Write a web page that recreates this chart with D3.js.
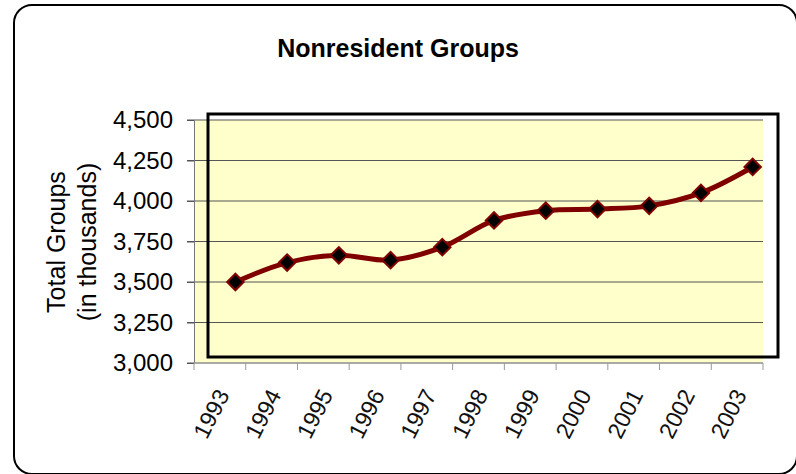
<!DOCTYPE html>
<html>
<head>
<meta charset="utf-8">
<script src="https://cdn.jsdelivr.net/npm/d3@7"></script>
<style>
html,body{margin:0;padding:0;background:#fff;}
svg{display:block;font-family:Arial,"Liberation Sans",sans-serif;}
</style>
</head>
<body>
<svg id="chart" width="796" height="474"></svg>
<script>
const years = ["1993","1994","1995","1996","1997","1998","1999","2000","2001","2002","2003"];
const totalGroups = [3500, 3620, 3665, 3635, 3715, 3880, 3940, 3950, 3970, 4050, 4210];
const yTickValues = [3000, 3250, 3500, 3750, 4000, 4250, 4500];
const titleText = "Nonresident Groups";
const yTitleLines = ["Total Groups", "(in thousands)"];

const svg = d3.select("#chart");
const plot = {left: 194, right: 763, top: 120, bottom: 363};

// outer rounded frame
svg.append("rect").attr("x", 14).attr("y", 5).attr("width", 783).attr("height", 469)
  .attr("rx", 18).attr("fill", "#fff").attr("stroke", "#000").attr("stroke-width", 2);

const x = d3.scaleBand().domain(years).range([plot.left, plot.right]).paddingInner(0).paddingOuter(0);
const y = d3.scaleLinear().domain([3000, 4500]).range([plot.bottom, plot.top]);
const bw = x.bandwidth();

// plot background
svg.append("rect").attr("x", plot.left).attr("y", plot.top)
  .attr("width", plot.right - plot.left).attr("height", plot.bottom - plot.top)
  .attr("fill", "#FFFFCC");

// gridlines
svg.append("g").selectAll("line").data(yTickValues).join("line")
  .attr("x1", plot.left - 7).attr("x2", plot.right)
  .attr("y1", d => y(d)).attr("y2", d => y(d))
  .attr("stroke", "#555").attr("stroke-width", 1);

// y axis
const yAxis = svg.append("g").attr("transform", `translate(${plot.left},0)`)
  .call(d3.axisLeft(y).tickValues(yTickValues).tickFormat(d3.format(",")).tickSize(7).tickPadding(14));
yAxis.select(".domain").attr("stroke", "#777");
yAxis.selectAll(".tick line").attr("stroke", "#555");
yAxis.selectAll(".tick text").attr("font-size", 24).attr("fill", "#000")
  .attr("font-family", "Arial, 'Liberation Sans', sans-serif");

// x axis line + ticks at band boundaries
svg.append("line").attr("x1", plot.left).attr("x2", plot.right)
  .attr("y1", plot.bottom).attr("y2", plot.bottom).attr("stroke", "#aaa").attr("stroke-width", 1.2);
const bounds = years.map(d => x(d)).concat([x(years[years.length - 1]) + bw]);
svg.append("g").selectAll("line").data(bounds).join("line")
  .attr("x1", d => d).attr("x2", d => d)
  .attr("y1", plot.bottom).attr("y2", plot.bottom + 7)
  .attr("stroke", "#999").attr("stroke-width", 1);

// x labels
svg.append("g").selectAll("text").data(years).join("text")
  .attr("transform", d => `translate(${x(d) + bw / 2 + 3},${plot.bottom + 28}) rotate(-63)`)
  .attr("text-anchor", "end").attr("dy", "0.35em")
  .attr("font-size", 23).attr("fill", "#111")
  .text(d => d);

// black frame box
svg.append("rect").attr("x", 208).attr("y", 114).attr("width", 570).attr("height", 243)
  .attr("fill", "none").attr("stroke", "#000").attr("stroke-width", 3);

// line
const px = d => x(d) + bw * 0.8;
const line = d3.line().x((d, i) => px(years[i])).y(d => y(d)).curve(d3.curveCatmullRom.alpha(0.5));
svg.append("path").datum(totalGroups).attr("d", line)
  .attr("fill", "none").attr("stroke", "#800000").attr("stroke-width", 5)
  .attr("stroke-linejoin", "round");

// diamond markers
const diamond = d3.symbol().type(d3.symbolSquare).size(135);
svg.append("g").selectAll("path").data(totalGroups).join("path")
  .attr("d", diamond)
  .attr("transform", (d, i) => `translate(${px(years[i])},${y(d)}) rotate(45)`)
  .attr("fill", "#000").attr("stroke", "#800000").attr("stroke-width", 2);

// title
svg.append("text").attr("x", 398).attr("y", 57).attr("text-anchor", "middle")
  .attr("font-size", 25).attr("font-weight", "bold").attr("fill", "#000").text(titleText);

// y title
const yt = svg.append("text").attr("transform", "translate(56,242) rotate(-90)")
  .attr("text-anchor", "middle").attr("font-size", 25).attr("fill", "#000");
yt.selectAll("tspan").data(yTitleLines).join("tspan")
  .attr("x", 0).attr("dy", (d, i) => i === 0 ? "0.35em" : "1.25em").text(d => d);
</script>
</body>
</html>
